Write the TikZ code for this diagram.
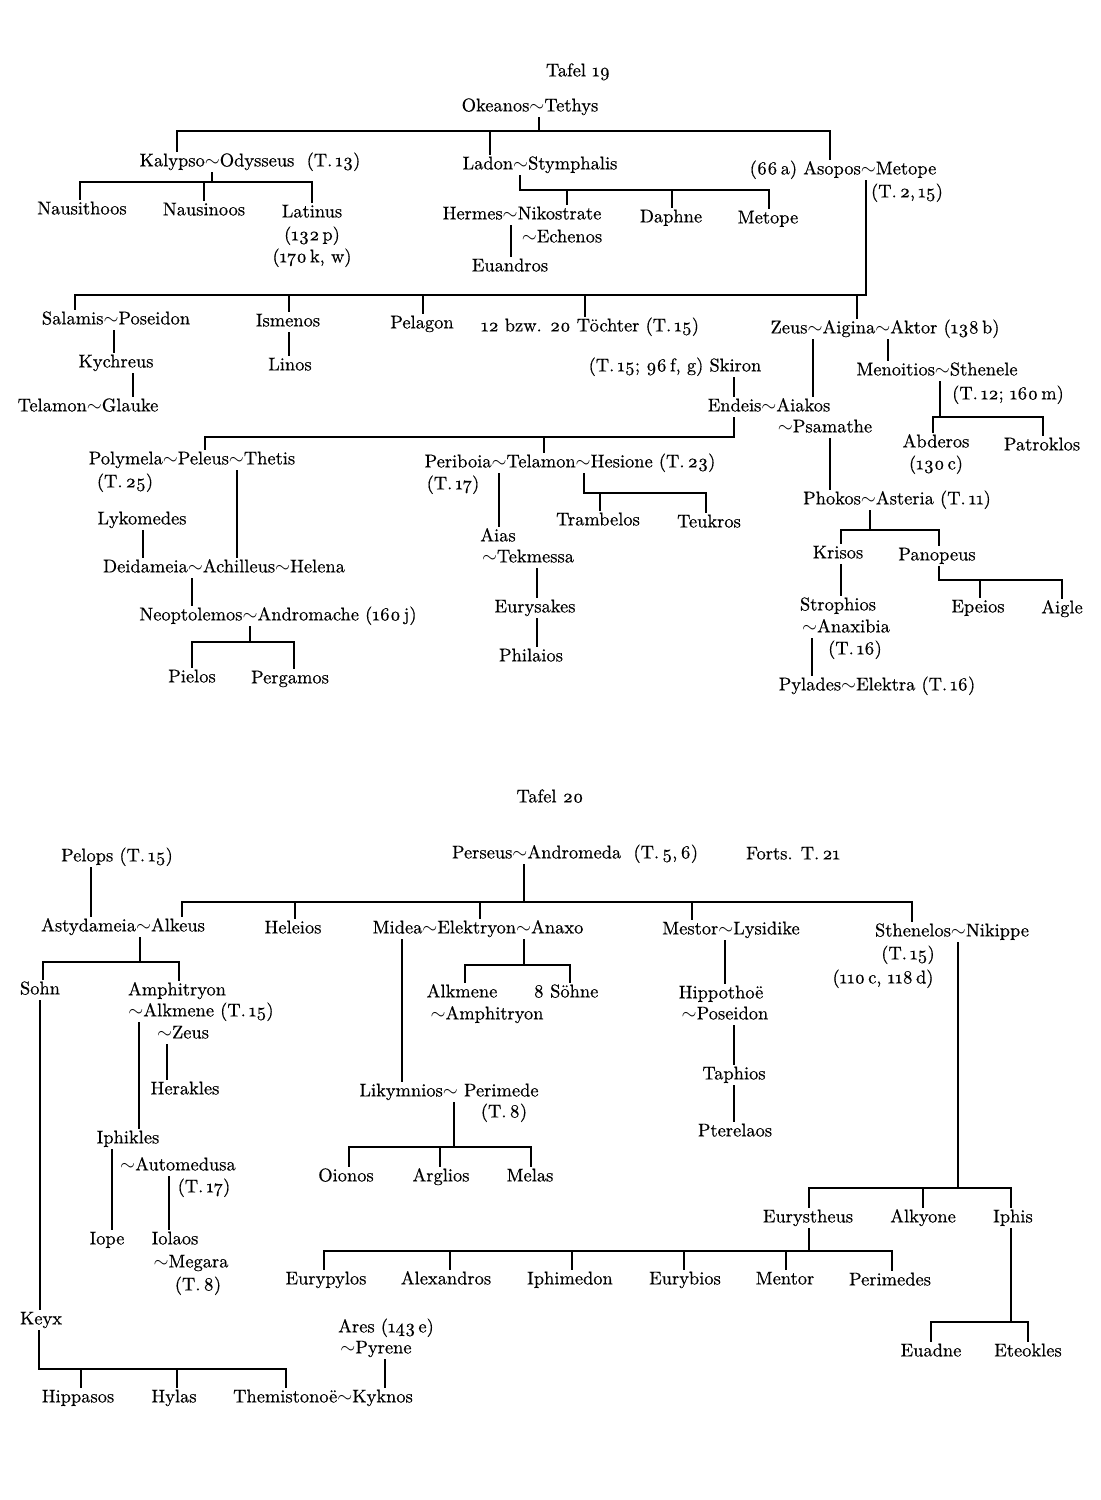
\documentclass[tikz,border=0pt]{standalone}
\usepackage{fontspec}
\setmainfont{lmroman10-regular.otf}[FakeBold=0.5]
\usepackage{tikz}
\newcommand{\ehe}{${\sim}$}
\newcommand{\os}[1]{\oldstylenums{#1}}

\begin{document}
\begin{tikzpicture}[x=0.02cm, y=-0.02cm, line width=1.1pt,
  every node/.style={inner sep=0.8pt, text height=7pt, text depth=2pt,
    font=\fontsize{10.5}{12}\selectfont}]
\useasboundingbox (0,0) rectangle (1100,1500);

% Tafel 19
\node (t19) at (578,72) {Tafel \os{19}};
\node (oke) at (530,107) {Okeanos\ehe Tethys};
\node (kal) at (250,162) {Kalypso\ehe Odysseus\ \ (T.\,\os{13})};
\node (lad) at (540,165) {Ladon\ehe Stymphalis};
\node (aso) at (843,170) {(\os{66}\,a) Asopos\ehe Metope};
\node (aso2) at (907,193) {(T.\,\os{2},\,\os{15})};
\node (nsth) at (82,210) {Nausithoos};
\node (nsin) at (204,211) {Nausinoos};
\node (lat) at (312,213) {Latinus};
\node (lat2) at (312,236) {(\os{132}\,p)};
\node (lat3) at (312,258) {(\os{170}\,k, w)};
\node (her) at (522,215) {Hermes\ehe Nikostrate};
\node (ech) at (562,238) {\ehe Echenos};
\node (eua) at (510,267) {Euandros};
\node (dap) at (671,218) {Daphne};
\node (met) at (768,219) {Metope};
\node (sal) at (116,320) {Salamis\ehe Poseidon};
\node (ism) at (288,322) {Ismenos};
\node (pel) at (422,324) {Pelagon};
\node (toe) at (590,327) {\os{12} bzw. \os{20} Töchter (T.\,\os{15})};
\node (zeu) at (885,329) {Zeus\ehe Aigina\ehe Aktor (\os{138}\,b)};
\node (kyc) at (116,363) {Kychreus};
\node (tel) at (88,407) {Telamon\ehe Glauke};
\node (lin) at (290,366) {Linos};
\node (ski) at (675,367) {(T.\,\os{15}; \os{96}\,f, g) Skiron};
\node (men) at (937,371) {Menoitios\ehe Sthenele};
\node (men2) at (1008,395) {(T.\,\os{12}; \os{160}\,m)};
\node (end) at (769,407) {Endeis\ehe Aiakos};
\node (psa) at (825,428) {\ehe Psamathe};
\node (abd) at (936,443) {Abderos};
\node (abd2) at (936,465) {(\os{130}\,c)};
\node (pat) at (1042,446) {Patroklos};
\node (pol) at (192,460) {Polymela\ehe Peleus\ehe Thetis};
\node (pol2) at (125,483) {(T.\,\os{25})};
\node (per) at (570,463) {Periboia\ehe Telamon\ehe Hesione (T.\,\os{23})};
\node (per2) at (453,485) {(T.\,\os{17})};
\node (pho) at (897,500) {Phokos\ehe Asteria (T.\,\os{11})};
\node (lyk) at (142,520) {Lykomedes};
\node (tra) at (598,521) {Trambelos};
\node (teu) at (709,523) {Teukros};
\node (aia) at (498,537) {Aias};
\node (tek) at (528,558) {\ehe Tekmessa};
\node (kri) at (838,554) {Krisos};
\node (pan) at (937,556) {Panopeus};
\node (dei) at (224,568) {Deidameia\ehe Achilleus\ehe Helena};
\node (eur) at (535,608) {Eurysakes};
\node (str) at (838,606) {Strophios};
\node (epe) at (978,608) {Epeios};
\node (aig) at (1062,609) {Aigle};
\node (neo) at (278,616) {Neoptolemos\ehe Andromache (\os{160}\,j)};
\node (ana) at (846,628) {\ehe Anaxibia};
\node (ana2) at (855,650) {(T.\,\os{16})};
\node (phi) at (531,657) {Philaios};
\node (pie) at (192,678) {Pielos};
\node (pee) at (290,679) {Pergamos};
\node (pyl) at (877,686) {Pylades\ehe Elektra (T.\,\os{16})};

% Okeanos
\coordinate (o0) at (539,131);
\coordinate (o1) at (177,131);
\coordinate (o2) at (490,131);
\coordinate (o3) at (830,131);
\draw (oke.south -| o0) -- (o0);
\draw (kal.north -| o1) -- (o1) -- (o3) -- (aso.north -| o3);
\draw (o2) -- (lad.north -| o2);
% Kalypso
\coordinate (k0) at (212,182);
\coordinate (k1) at (80,182);
\coordinate (k2) at (204,182);
\coordinate (k3) at (312,182);
\draw (kal.south -| k0) -- (k0);
\draw (nsth.north -| k1) -- (k1) -- (k3) -- (lat.north -| k3);
\draw (k2) -- (nsin.north -| k2);
% Ladon
\coordinate (l0) at (520,190);
\coordinate (l1) at (567,190);
\coordinate (l2) at (672,190);
\coordinate (l3) at (769,190);
\draw (lad.south -| l0) -- (l0) -- (l3) -- (met.north -| l3);
\draw (l1) -- (her.north -| l1);
\draw (l2) -- (dap.north -| l2);
\coordinate (h0) at (511,228);
\draw (her.south -| h0) -- (eua.north -| h0);
% Asopos
\coordinate (a0) at (866,295);
\coordinate (a1) at (75,295);
\coordinate (a2) at (289,295);
\coordinate (a3) at (423,295);
\coordinate (a4) at (585,295);
\coordinate (a5) at (857,295);
\draw (aso.south -| a0) -- (a0) -- (a1) -- (sal.north -| a1);
\draw (a2) -- (ism.north -| a2);
\draw (a3) -- (pel.north -| a3);
\draw (a4) -- (toe.north -| a4);
\draw (a5) -- (zeu.north -| a5);
% Salamis, Ismenos
\coordinate (s1) at (114,335);
\coordinate (s2) at (133,377);
\coordinate (i1) at (289,335);
\draw (sal.south -| s1) -- (kyc.north -| s1);
\draw (kyc.south -| s2) -- (tel.north -| s2);
\draw (ism.south -| i1) -- (lin.north -| i1);
% Zeus, Aigina, Aktor
\coordinate (z1) at (813,340);
\coordinate (z2) at (888,340);
\draw (zeu.south -| z1) -- (end.north -| z1);
\draw (zeu.south -| z2) -- (men.north -| z2);
\coordinate (m0) at (940,417);
\coordinate (m1) at (933,417);
\coordinate (m2) at (1043,417);
\draw (men.south -| m0) -- (m0);
\draw (abd.north -| m1) -- (m1) -- (m2) -- (pat.north -| m2);
% Skiron, Endeis
\coordinate (sk) at (734,380);
\draw (ski.south -| sk) -- (end.north -| sk);
\coordinate (e0) at (734,437);
\coordinate (e1) at (205,437);
\coordinate (e2) at (544,437);
\draw (end.south -| e0) -- (e0) -- (e1) -- (pol.north -| e1);
\draw (e2) -- (per.north -| e2);
\coordinate (ps) at (830,440);
\draw (psa.south -| ps) -- (pho.north -| ps);
% Peleus
\coordinate (p1) at (237,470);
\coordinate (p2) at (143,530);
\coordinate (p3) at (192,578);
\draw (pol.south -| p1) -- (dei.north -| p1);
\draw (lyk.south -| p2) -- (dei.north -| p2);
\draw (dei.south -| p3) -- (neo.north -| p3);
\coordinate (n0) at (250,642);
\coordinate (n1) at (192,642);
\coordinate (n2) at (294,642);
\draw (neo.south -| n0) -- (n0);
\draw (pie.north -| n1) -- (n1) -- (n2) -- (pee.north -| n2);
% Telamon
\coordinate (q1) at (499,470);
\coordinate (q2) at (537,570);
\draw (per.south -| q1) -- (aia.north -| q1);
\draw (tek.south -| q2) -- (eur.north -| q2);
\draw (eur.south -| q2) -- (phi.north -| q2);
\coordinate (q0) at (584,493);
\coordinate (q3) at (600,493);
\coordinate (q4) at (706,493);
\draw (per.south -| q0) -- (q0) -- (q4) -- (teu.north -| q4);
\draw (q3) -- (tra.north -| q3);
% Phokos
\coordinate (f0) at (870,530);
\coordinate (f1) at (841,530);
\coordinate (f2) at (939,530);
\draw (pho.south -| f0) -- (f0);
\draw (kri.north -| f1) -- (f1) -- (f2) -- (pan.north -| f2);
\coordinate (f3) at (841,565);
\coordinate (f4) at (812,640);
\draw (kri.south -| f3) -- (str.north -| f3);
\draw (ana.south -| f4) -- (pyl.north -| f4);
\coordinate (g1) at (939,580);
\coordinate (g2) at (980,580);
\coordinate (g3) at (1062,580);
\draw (pan.south -| g1) -- (g1) -- (g3) -- (aig.north -| g3);
\draw (g2) -- (epe.north -| g2);

% Tafel 20
\node (t20) at (550,798) {Tafel \os{20}};
\node (pelo) at (117,857) {Pelops (T.\,\os{15})};
\node (pers) at (575,854) {Perseus\ehe Andromeda\ \ (T.\,\os{5},\,\os{6})};
\node (forts) at (793,855) {Forts. T.\,\os{21}};
\node (ast) at (123,927) {Astydameia\ehe Alkeus};
\node (hel) at (293,929) {Heleios};
\node (mid) at (478,929) {Midea\ehe Elektryon\ehe Anaxo};
\node (mes) at (731,930) {Mestor\ehe Lysidike};
\node (sth) at (952,932) {Sthenelos\ehe Nikippe};
\node (sth2) at (908,955) {(T.\,\os{15})};
\node (sth3) at (883,979) {(\os{110}\,c, \os{118}\,d)};
\node (sohn) at (40,990) {Sohn};
\node (amp) at (177,991) {Amphitryon};
\node (amp2) at (201,1012) {\ehe Alkmene (T.\,\os{15})};
\node (amp3) at (183,1034) {\ehe Zeus};
\node (alk) at (462,993) {Alkmene};
\node (alk2) at (487,1015) {\ehe Amphitryon};
\node (soe) at (566,993) {\os{8} Söhne};
\node (hip) at (721,994) {Hippothoë};
\node (hip2) at (725,1015) {\ehe Poseidon};
\node (tap) at (734,1075) {Taphios};
\node (herk) at (185,1090) {Herakles};
\node (lik) at (449,1092) {Likymnios\ehe\ Perimede};
\node (lik2) at (504,1113) {(T.\,\os{8})};
\node (pte) at (735,1132) {Pterelaos};
\node (iph) at (128,1139) {Iphikles};
\node (aut) at (178,1166) {\ehe Automedusa};
\node (aut2) at (204,1188) {(T.\,\os{17})};
\node (oio) at (346,1177) {Oionos};
\node (arg) at (441,1177) {Arglios};
\node (mel) at (530,1177) {Melas};
\node (eus) at (808,1218) {Eurystheus};
\node (aly) at (923,1218) {Alkyone};
\node (iphi) at (1013,1218) {Iphis};
\node (iop) at (107,1240) {Iope};
\node (iol) at (175,1240) {Iolaos};
\node (meg) at (191,1263) {\ehe Megara};
\node (meg2) at (198,1286) {(T.\,\os{8})};
\node (eupy) at (326,1280) {Eurypylos};
\node (alex) at (446,1280) {Alexandros};
\node (iphm) at (570,1280) {Iphimedon};
\node (euby) at (685,1280) {Eurybios};
\node (ment) at (785,1280) {Mentor};
\node (perm) at (890,1281) {Perimedes};
\node (keyx) at (41,1320) {Keyx};
\node (ares) at (386,1328) {Ares (\os{143}\,e)};
\node (pyr) at (376,1349) {\ehe Pyrene};
\node (euad) at (931,1352) {Euadne};
\node (eteo) at (1028,1352) {Eteokles};
\node (hipp) at (78,1398) {Hippasos};
\node (hyl) at (174,1398) {Hylas};
\node (them) at (323,1398) {Themistonoë\ehe Kyknos};

% Pelops, Perseus
\coordinate (u1) at (91,868);
\draw (pelo.south -| u1) -- (ast.north -| u1);
\coordinate (r0) at (524,902);
\coordinate (r1) at (182,902);
\coordinate (r2) at (295,902);
\coordinate (r3) at (480,902);
\coordinate (r4) at (692,902);
\coordinate (r5) at (912,902);
\draw (pers.south -| r0) -- (r0);
\draw (ast.north -| r1) -- (r1) -- (r5) -- (sth.north -| r5);
\draw (r2) -- (hel.north -| r2);
\draw (r3) -- (mid.north -| r3);
\draw (r4) -- (mes.north -| r4);
% Alkeus
\coordinate (w0) at (140,962);
\coordinate (w1) at (43,962);
\coordinate (w2) at (179,962);
\draw (ast.south -| w0) -- (w0);
\draw (sohn.north -| w1) -- (w1) -- (w2) -- (amp.north -| w2);
\coordinate (w3) at (40,1000);
\draw (sohn.south -| w3) -- (keyx.north -| w3);
\coordinate (x1) at (39,1369);
\coordinate (x2) at (81,1369);
\coordinate (x3) at (177,1369);
\coordinate (x4) at (286,1369);
\draw (keyx.south -| x1) -- (x1) -- (x4) -- (them.north -| x4);
\draw (x2) -- (hipp.north -| x2);
\draw (x3) -- (hyl.north -| x3);
% Amphitryon
\coordinate (w4) at (139,1022);
\coordinate (w5) at (167,1045);
\coordinate (w6) at (112,1150);
\coordinate (w7) at (169,1178);
\draw (amp2.south -| w4) -- (iph.north -| w4);
\draw (amp3.south -| w5) -- (herk.north -| w5);
\draw (iph.south -| w6) -- (iop.north -| w6);
\draw (aut.south -| w7) -- (iol.north -| w7);
% Elektryon
\coordinate (y1) at (402,942);
\draw (mid.south -| y1) -- (lik.north -| y1);
\coordinate (y0) at (524,965);
\coordinate (y2) at (465,965);
\coordinate (y3) at (570,965);
\draw (mid.south -| y0) -- (y0);
\draw (alk.north -| y2) -- (y2) -- (y3) -- (soe.north -| y3);
\coordinate (y4) at (454,1147);
\coordinate (y5) at (349,1147);
\coordinate (y6) at (440,1147);
\coordinate (y7) at (531,1147);
\draw (lik.south -| y4) -- (y4);
\draw (oio.north -| y5) -- (y5) -- (y7) -- (mel.north -| y7);
\draw (y6) -- (arg.north -| y6);
% Mestor
\coordinate (v1) at (725,942);
\coordinate (v2) at (734,1025);
\draw (mes.south -| v1) -- (hip.north -| v1);
\draw (hip2.south -| v2) -- (tap.north -| v2);
\draw (tap.south -| v2) -- (pte.north -| v2);
% Sthenelos
\coordinate (c0) at (958,1188);
\coordinate (c1) at (809,1188);
\coordinate (c2) at (923,1188);
\coordinate (c3) at (1011,1188);
\draw (sth.south -| c0) -- (c0);
\draw (eus.north -| c1) -- (c1) -- (c3) -- (iphi.north -| c3);
\draw (c2) -- (aly.north -| c2);
\coordinate (d0) at (809,1251);
\coordinate (d1) at (324,1251);
\coordinate (d2) at (450,1251);
\coordinate (d3) at (572,1251);
\coordinate (d4) at (684,1251);
\coordinate (d5) at (786,1251);
\coordinate (d6) at (892,1251);
\draw (eus.south -| d0) -- (d0);
\draw (eupy.north -| d1) -- (d1) -- (d6) -- (perm.north -| d6);
\draw (d2) -- (alex.north -| d2);
\draw (d3) -- (iphm.north -| d3);
\draw (d4) -- (euby.north -| d4);
\draw (d5) -- (ment.north -| d5);
\coordinate (j0) at (1011,1322);
\coordinate (j1) at (931,1322);
\coordinate (j2) at (1028,1322);
\draw (iphi.south -| j0) -- (j0);
\draw (euad.north -| j1) -- (j1) -- (j2) -- (eteo.north -| j2);
% Ares
\coordinate (k9) at (385,1360);
\draw (pyr.south -| k9) -- (them.north -| k9);
\end{tikzpicture}
\end{document}
